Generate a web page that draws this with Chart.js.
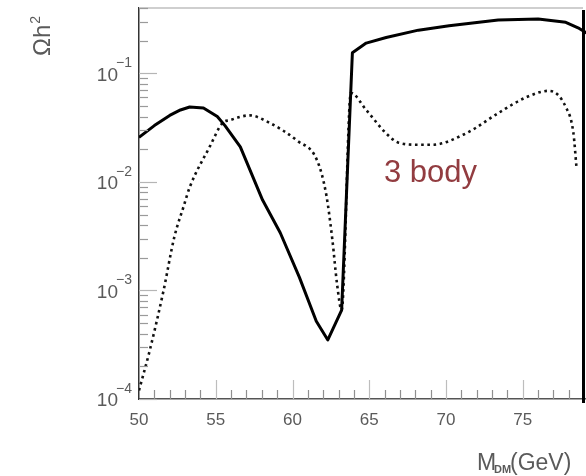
<!DOCTYPE html>
<html>
<head>
<meta charset="utf-8">
<script src="https://cdn.jsdelivr.net/npm/chart.js@4.4.1/dist/chart.umd.min.js"></script>
<style>
  html, body { margin: 0; padding: 0; background: #fff; overflow: hidden; }
  #wrap { width: 620px; height: 476px; }
</style>
</head>
<body>
<div id="wrap"><canvas id="relic" width="620" height="476"></canvas></div>
<script>
// relic density vs dark matter mass, full calculation and 3-body only
const solidMass = [50.0, 51.0, 52.0, 52.7, 53.3, 54.2, 55.1, 55.6, 56.6, 58.05, 59.2, 60.45, 61.55, 62.3, 63.2, 63.9, 64.8, 66.1, 68.2, 70.2, 73.4, 76.0, 77.8, 78.6, 79.5];
const solidOmega = [0.0257, 0.033, 0.041, 0.046, 0.049, 0.048, 0.040, 0.033, 0.021, 0.0068, 0.0034, 0.00132, 0.00052, 0.00035, 0.00066, 0.155, 0.19, 0.214, 0.25, 0.275, 0.31, 0.316, 0.295, 0.263, 0.22];

const dotMass = [50.0, 50.7, 51.6, 52.3, 52.9, 53.3, 54.6, 55.45, 55.9, 57.2, 58.5, 60.3, 61.6, 62.2, 62.6, 62.9, 63.2, 63.8, 64.8, 66.1, 66.9, 68.2, 69.1, 71.3, 73.4, 75.2, 76.7, 77.8, 78.3, 78.5];
const dotOmega = [0.00012, 0.00028, 0.0010, 0.0031, 0.0059, 0.0089, 0.021, 0.035, 0.037, 0.041, 0.035, 0.024, 0.0158, 0.0076, 0.0029, 0.00115, 0.00066, 0.066, 0.046, 0.028, 0.023, 0.022, 0.022, 0.028, 0.043, 0.060, 0.069, 0.049, 0.028, 0.0135];

const xTicks = [50, 55, 60, 65, 70, 75, 80];
const yDecades = [-4, -3, -2, -1];
const curveLabel = '3 body';

const toPoints = (xs, ys) => xs.map((x, i) => ({ x: x, y: ys[i] }));

const FONT = '"Liberation Sans", Arial, sans-serif';
const GREY = '#5a5a5a';

// frame, inward ticks, superscript labels and annotations
const decorations = {
  id: 'decorations',
  afterDraw(chart) {
    const ctx = chart.ctx;
    const area = chart.chartArea;
    const xs = chart.scales.x;
    const ys = chart.scales.y;
    ctx.save();

    // top frame line
    ctx.strokeStyle = '#cfcfcf';
    ctx.lineWidth = 2;
    ctx.beginPath();
    ctx.moveTo(area.left, area.top);
    ctx.lineTo(583, area.top);
    ctx.stroke();

    // y ticks
    ctx.lineWidth = 1.2;
    yDecades.forEach((n) => {
      for (let k = 1; k <= 9; k++) {
        const v = k * Math.pow(10, n);
        if (v < ys.min || v > ys.max) continue;
        const py = Math.round(ys.getPixelForValue(v)) + 0.5;
        ctx.strokeStyle = k === 1 ? '#b5b5b5' : '#9a9a9a';
        ctx.beginPath();
        ctx.moveTo(area.left, py);
        ctx.lineTo(area.left + (k === 1 ? 18 : 9), py);
        ctx.stroke();
      }
    });

    // x ticks
    for (let m = 51; m < 80; m++) {
      const px = Math.round(xs.getPixelForValue(m)) + 0.5;
      const major = m % 5 === 0;
      ctx.strokeStyle = major ? '#bdbdbd' : '#8f8f8f';
      ctx.beginPath();
      ctx.moveTo(px, area.bottom);
      ctx.lineTo(px, area.bottom - (major ? 19 : 9));
      ctx.stroke();
    }

    // y labels 10^n
    ctx.fillStyle = GREY;
    yDecades.forEach((n) => {
      const py = ys.getPixelForValue(Math.pow(10, n));
      ctx.font = '19px ' + FONT;
      ctx.textAlign = 'right';
      ctx.textBaseline = 'middle';
      ctx.fillText('10', 118, py + 2);
      ctx.font = '14px ' + FONT;
      ctx.textAlign = 'left';
      ctx.textBaseline = 'alphabetic';
      ctx.fillText('\u2212' + Math.abs(n), 116, py - 6);
    });

    // y title
    ctx.save();
    ctx.translate(50, 56);
    ctx.rotate(-Math.PI / 2);
    ctx.textAlign = 'left';
    ctx.textBaseline = 'alphabetic';
    ctx.font = '24px ' + FONT;
    ctx.fillText('\u03a9h', 0, 0);
    const w = ctx.measureText('\u03a9h').width;
    ctx.font = '14px ' + FONT;
    ctx.fillText('2', w + 1, -10);
    ctx.restore();

    // x title
    ctx.textAlign = 'left';
    ctx.textBaseline = 'alphabetic';
    ctx.font = '23px ' + FONT;
    ctx.fillText('M', 477, 470);
    ctx.font = 'bold 11px ' + FONT;
    ctx.fillText('DM', 494, 473);
    ctx.font = '23px ' + FONT;
    ctx.fillText('(GeV)', 510, 470);

    // curve annotation
    ctx.fillStyle = '#923c40';
    ctx.font = '31px ' + FONT;
    ctx.fillText(curveLabel, 384, 182);

    // right border
    ctx.strokeStyle = '#000';
    ctx.lineWidth = 3;
    ctx.beginPath();
    ctx.moveTo(583.5, 10);
    ctx.lineTo(583.5, 403);
    ctx.stroke();

    ctx.restore();
  }
};

const ctx = document.getElementById('relic').getContext('2d');
const chart = new Chart(ctx, {
  type: 'line',
  data: {
    datasets: [{
      label: 'total',
      data: toPoints(solidMass, solidOmega),
      borderColor: '#000',
      borderWidth: 3,
      borderJoinStyle: 'round',
      pointRadius: 0,
      tension: 0,
      fill: false
    }, {
      label: curveLabel,
      data: toPoints(dotMass, dotOmega),
      borderColor: '#111',
      borderWidth: 2.6,
      borderDash: [2.6, 3.6],
      pointRadius: 0,
      cubicInterpolationMode: 'monotone',
      fill: false
    }]
  },
  options: {
    responsive: false,
    animation: false,
    devicePixelRatio: 1,
    layout: { padding: { top: 8, right: 19, bottom: 0, left: 0 } },
    plugins: {
      legend: { display: false },
      tooltip: { enabled: false }
    },
    scales: {
      x: {
        type: 'linear',
        min: 50,
        max: 80,
        afterFit: (scale) => { scale.height = 77; },
        afterBuildTicks: (scale) => { scale.ticks = xTicks.map((v) => ({ value: v })); },
        grid: { display: false, drawTicks: false },
        border: { display: true, color: '#555', width: 1.5 },
        ticks: {
          color: GREY,
          padding: 11,
          maxRotation: 0,
          font: { family: FONT, size: 17 }
        }
      },
      y: {
        type: 'logarithmic',
        min: 0.0001,
        max: 0.4,
        afterFit: (scale) => { scale.width = 139; },
        grid: { display: false, drawTicks: false },
        border: { display: true, color: '#333', width: 1.5 },
        ticks: { display: false }
      }
    }
  },
  plugins: [decorations]
});
</script>
</body>
</html>
